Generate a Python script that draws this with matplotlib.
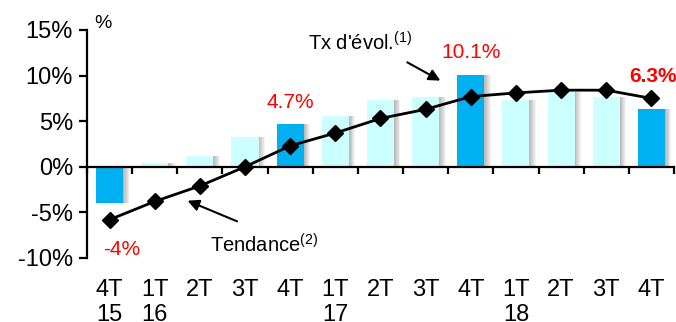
import numpy as np
import matplotlib.pyplot as plt
import matplotlib.transforms as mtransforms

plt.rcParams['font.family'] = ['Liberation Sans', 'DejaVu Sans']
plt.rcParams['mathtext.fontset'] = 'custom'
plt.rcParams['mathtext.rm'] = 'Liberation Sans'

# data
quarters = ["4T", "1T", "2T", "3T", "4T", "1T", "2T", "3T", "4T", "1T", "2T", "3T", "4T"]
years = ["15", "16", "", "", "", "17", "", "", "", "18", "", "", ""]
growth = [-4.0, 0.4, 1.2, 3.3, 4.7, 5.6, 7.3, 7.7, 10.1, 7.3, 8.2, 7.7, 6.3]
trend = [-5.8, -3.8, -2.1, 0.0, 2.3, 3.7, 5.3, 6.3, 7.7, 8.1, 8.4, 8.4, 7.5]
highlight = [True, False, False, False, True, False, False, False, True, False, False, False, True]
yticks = [-10, -5, 0, 5, 10, 15]

dark = "#00B0F0"
light = "#CCFFFF"
red = "#FF0000"

fig = plt.figure(figsize=(6.76, 3.22), dpi=100)
ax = fig.add_axes([0.1287, 0.1988, 0.8683, 0.7081])

x = np.arange(len(quarters))
colors = [dark if h else light for h in highlight]

# soft shadow to the right / below each bar
for k in range(1, 8):
    ax.bar(x + k * 0.02, growth, width=0.6, color="#404040", alpha=0.06,
           bottom=0, zorder=1, linewidth=0)
ax.bar(x, growth, width=0.6, color=colors, zorder=2, linewidth=0)

ax.plot(x, trend, color="black", lw=2, marker="D", markersize=8.5,
        markeredgecolor="black", markerfacecolor="black", zorder=4, clip_on=False)

ax.set_xlim(-0.5, 12.5)
ax.set_ylim(-10, 15)

ax.spines['top'].set_visible(False)
ax.spines['right'].set_visible(False)
ax.spines['left'].set_linewidth(1.6)
ax.spines['bottom'].set_linewidth(1.6)
ax.spines['bottom'].set_position(('data', 0))
ax.spines['bottom'].set_zorder(3)

ax.set_yticks(yticks)
ax.set_yticklabels([f"{v}%" for v in yticks], fontsize=17)
ax.tick_params(axis='y', direction='out', length=6, width=1.6, pad=4)

ax.set_xticks(np.arange(-0.5, 13, 1))
ax.set_xticklabels([])
ax.tick_params(axis='x', direction='out', length=5, width=1.6)

trans = mtransforms.blended_transform_factory(ax.transData, ax.transAxes)
for i, (q, yr) in enumerate(zip(quarters, years)):
    lab = q + ("\n" + yr if yr else "")
    ax.text(i, -0.092, lab, transform=trans, ha='center', va='top',
            fontsize=17, linespacing=1.15, clip_on=False)

ax.text(-0.15, 15.7, "%", fontsize=14, ha='center', va='center')

# value labels
ax.text(0.27, -9.1, "-4%", color=red, fontsize=15, ha='center', va='center')
ax.text(4, 7.1, "4.7%", color=red, fontsize=15, ha='center', va='center')
ax.text(8, 12.5, "10.1%", color=red, fontsize=15, ha='center', va='center')
ax.text(12.03, 9.9, "6.3%", color=red, fontsize=15, fontweight='bold',
        ha='center', va='center')

# annotations
ax.text(4.39, 13.6, "Tx d'évol.$^{(1)}$", fontsize=14.5, ha='left', va='center')
ax.annotate("", xy=(7.38, 9.3), xytext=(6.54, 11.6),
            arrowprops=dict(arrowstyle="-|>", color="black", lw=1.5,
                            mutation_scale=17))
ax.text(2.22, -8.55, "Tendance$^{(2)}$", fontsize=14.5, ha='left', va='center')
ax.annotate("", xy=(1.67, -3.6), xytext=(2.88, -6.1),
            arrowprops=dict(arrowstyle="-|>", color="black", lw=1.5,
                            mutation_scale=17))

fig.savefig("out.png", dpi=100)
